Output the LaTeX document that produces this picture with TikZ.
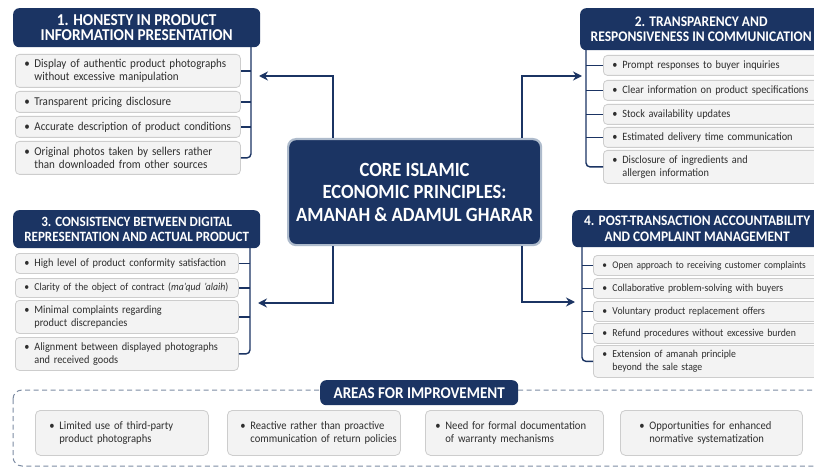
\documentclass[tikz,border=0pt]{standalone}
\usepackage{fontspec}
\setmainfont{Carlito}[FakeStretch=0.92]
\usetikzlibrary{arrows.meta}
\definecolor{navy}{HTML}{1B3463}
\definecolor{itemfill}{HTML}{F3F3F3}
\definecolor{itemline}{HTML}{CDCDCD}
\definecolor{itemtext}{HTML}{2E2E2E}
\definecolor{coreedge}{HTML}{AEBBCC}
\definecolor{dashcol}{HTML}{7D8CA3}
% bullet line and continuation line of an item (no line breaking)
\newcommand\bpt[1]{\makebox[10pt][l]{\textbullet}\mbox{#1}}
\newcommand\bcont[1]{\\\hspace*{10pt}\mbox{#1}}
\newcommand\fsz[1]{\fontsize{#1}{13.5}\selectfont}
\tikzset{
  hdr/.style={fill=navy, rounded corners=6pt, text=white, anchor=north west,
    align=center, inner sep=0pt},
  hfont/.style={font=\bfseries\fontsize{#1}{15.5}\selectfont},
  itm/.style={draw=itemline, fill=itemfill, rounded corners=4pt, line width=0.8pt,
    text=itemtext, font=\fsz{11.2}, align=left,
    anchor=north west, inner xsep=9pt, inner ysep=0pt},
  brk/.style={draw=navy, line width=1.4pt, rounded corners=4pt},
  link/.style={draw=navy, line width=1.8pt, -{Stealth[length=9pt,width=9pt]}},
  bitm/.style={draw=itemline, fill=itemfill, rounded corners=5pt, line width=0.8pt,
    text=itemtext, font=\fsz{11.5}, align=left,
    anchor=north west, inner ysep=0pt, minimum height=45pt}
}
\begin{document}
\begin{tikzpicture}[x=1pt,y=-1pt]
\useasboundingbox[fill=white] (0,0) rectangle (814,468);

% ---- central principle ----
\node[fill=navy, draw=coreedge, line width=2.2pt, rounded corners=8pt, anchor=north west,
  minimum width=253pt, minimum height=106pt, text=white, align=center,
  font=\bfseries\fontsize{20.2}{22.5}\selectfont] (core) at (287,138)
  {CORE ISLAMIC\\ECONOMIC PRINCIPLES:\\AMANAH \& ADAMUL GHARAR};

% ---- 1. honesty ----
\node[hdr, hfont=16.6, minimum width=247pt, minimum height=39pt] (h1) at (13,8)
  {1. HONESTY IN PRODUCT\\INFORMATION PRESENTATION};
\node[itm, font=\fsz{12}, text width=207pt, minimum height=33pt] (a1) at (15,54)
  {\bpt{Display of authentic product photographs}\bcont{without excessive manipulation}};
\node[itm, font=\fsz{12}, text width=207pt, minimum height=21pt] (a2) at (15,91)
  {\bpt{Transparent pricing disclosure}};
\node[itm, font=\fsz{12}, text width=207pt, minimum height=21pt] (a3) at (15,116)
  {\bpt{Accurate description of product conditions}};
\node[itm, font=\fsz{12}, text width=207pt, minimum height=33pt] (a4) at (15,141)
  {\bpt{Original photos taken by sellers rather}\bcont{than downloaded from other sources}};
\coordinate (k1) at (251,47);
\draw[brk] (k1) |- (a4.east);
\foreach \n in {a1,a2,a3} \draw[brk] (k1 |- \n.east) -- (\n.east);

% ---- 2. transparency ----
\node[hdr, hfont=14.7, minimum width=242pt, minimum height=42pt] (h2) at (580,8)
  {2. TRANSPARENCY AND\\RESPONSIVENESS IN COMMUNICATION};
\node[itm, text width=207pt, minimum height=20pt] (b1) at (603,55)
  {\bpt{Prompt responses to buyer inquiries}};
\node[itm, text width=207pt, minimum height=20pt] (b2) at (603,80)
  {\bpt{Clear information on product specifications}};
\node[itm, text width=207pt, minimum height=20pt] (b3) at (603,104)
  {\bpt{Stock availability updates}};
\node[itm, text width=207pt, minimum height=20pt] (b4) at (603,127)
  {\bpt{Estimated delivery time communication}};
\node[itm, text width=207pt, minimum height=33pt] (b5) at (603,150)
  {\bpt{Disclosure of ingredients and}\bcont{allergen information}};
\coordinate (k2) at (586,50);
\draw[brk] (k2) |- (b5.west);
\foreach \n in {b1,b2,b3,b4} \draw[brk] (k2 |- \n.west) -- (\n.west);

% ---- 3. consistency ----
\node[hdr, hfont=14.2, minimum width=247pt, minimum height=38pt] (h3) at (13,210)
  {3. CONSISTENCY BETWEEN DIGITAL\\REPRESENTATION AND ACTUAL PRODUCT};
\node[itm, text width=205pt, minimum height=20pt] (c1) at (15,253)
  {\bpt{High level of product conformity satisfaction}};
\node[itm, font=\fsz{10.6}, text width=205pt, minimum height=19pt] (c2) at (15,278)
  {\bpt{Clarity of the object of contract (\textit{ma'qud 'alaih})}};
\node[itm, text width=205pt, minimum height=33pt] (c3) at (15,300)
  {\bpt{Minimal complaints regarding}\bcont{product discrepancies}};
\node[itm, text width=205pt, minimum height=33pt] (c4) at (15,337)
  {\bpt{Alignment between displayed photographs}\bcont{and received goods}};
\coordinate (k3) at (250,248);
\draw[brk] (k3) |- (c4.east);
\foreach \n in {c1,c2,c3} \draw[brk] (k3 |- \n.east) -- (\n.east);

% ---- 4. accountability ----
\node[hdr, hfont=14.6, minimum width=250pt, minimum height=37pt] (h4) at (572,210)
  {4. POST-TRANSACTION ACCOUNTABILITY\\AND COMPLAINT MANAGEMENT};
\node[itm, font=\fsz{10.2}, text width=217pt, minimum height=20pt] (d1) at (593,255)
  {\bpt{Open approach to receiving customer complaints}};
\node[itm, font=\fsz{10.6}, text width=217pt, minimum height=20pt] (d2) at (593,278)
  {\bpt{Collaborative problem-solving with buyers}};
\node[itm, font=\fsz{10.6}, text width=217pt, minimum height=20pt] (d3) at (593,301)
  {\bpt{Voluntary product replacement offers}};
\node[itm, font=\fsz{10.6}, text width=217pt, minimum height=20pt] (d4) at (593,323)
  {\bpt{Refund procedures without excessive burden}};
\node[itm, font=\fsz{10.6}, text width=217pt, minimum height=32pt] (d5) at (593,345)
  {\bpt{Extension of amanah principle}\bcont{beyond the sale stage}};
\coordinate (k4) at (582,247);
\draw[brk] (k4) |- (d5.west);
\foreach \n in {d1,d2,d3,d4} \draw[brk] (k4 |- \n.west) -- (\n.west);

% ---- links from the core ----
\coordinate (t1) at (259,76);
\coordinate (t2) at (582,76);
\coordinate (t3) at (258,303);
\coordinate (t4) at (575,302);
\draw[link] (core.north -| 333,0) |- (t1);
\draw[link] (core.north -| 522,0) |- (t2);
\draw[link] (core.south -| 333,0) |- (t3);
\draw[link] (core.south -| 522,0) |- (t4);

% ---- areas for improvement ----
\draw[dashcol, line width=1pt, dash pattern=on 5pt off 3.5pt, rounded corners=9pt]
  (13,390) rectangle (840,466);
\node[fill=navy, rounded corners=6pt, text=white, anchor=north west,
  minimum width=198pt, minimum height=25pt, inner sep=0pt,
  font=\bfseries\fontsize{16.4}{16}\selectfont] (ah) at (320,380) {AREAS FOR IMPROVEMENT};
\node[bitm, inner xsep=14pt, text width=145pt] (e1) at (35,410)
  {\bpt{Limited use of third-party}\bcont{product photographs}};
\node[bitm, inner xsep=13pt, text width=147pt] (e2) at (227,410)
  {\bpt{Reactive rather than proactive}\bcont{communication of return policies}};
\node[bitm, inner xsep=10pt, text width=158pt] (e3) at (425,410)
  {\bpt{Need for formal documentation}\bcont{of warranty mechanisms}};
\node[bitm, inner xsep=19pt, text width=144pt] (e4) at (620,410)
  {\bpt{Opportunities for enhanced}\bcont{normative systematization}};
\end{tikzpicture}
\end{document}
